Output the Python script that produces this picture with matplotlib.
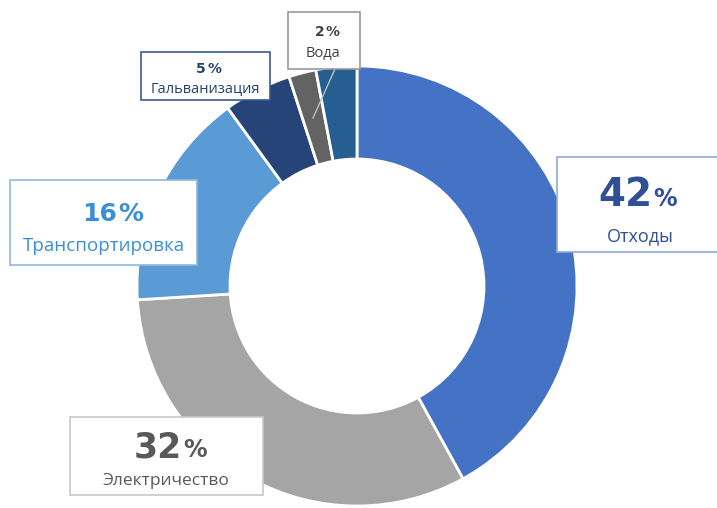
import matplotlib.pyplot as plt
from matplotlib.patches import Rectangle

# данные
labels = ['Отходы', 'Электричество', 'Транспортировка', 'Гальванизация', 'Вода', '']
values = [42, 32, 16, 5, 2, 3]
colors = ['#4472C4', '#A5A5A5', '#5B9BD5', '#264478', '#636363', '#255E91']

plt.rcParams['font.family'] = ['Open Sans', 'DejaVu Sans']

fig = plt.figure(figsize=(7.17, 5.08), dpi=100)
ax = fig.add_axes([0, 0, 1, 1])

H = 508
cx, cy, R = 357, H - 286, 220

ax.pie(values, colors=colors, startangle=90, counterclock=False,
       center=(cx, cy), radius=R, frame=True,
       wedgeprops=dict(width=R - 127, edgecolor='white', linewidth=2))
ax.set_xlim(0, 717)
ax.set_ylim(0, 508)
ax.axis('off')


def box(x0, y0, x1, y1, ec):
    ax.add_patch(Rectangle((x0, H - y1), x1 - x0, y1 - y0, facecolor='white',
                           edgecolor=ec, linewidth=1.2, zorder=5))


def pct(x, y, num, size, color, psize):
    ax.text(x, H - y, num, ha='right', va='baseline', fontsize=size,
            fontweight='heavy', color=color, family='DejaVu Sans', zorder=6)
    ax.text(x + 1, H - y, '%', ha='left', va='baseline', fontsize=psize,
            fontweight='bold', color=color, family='DejaVu Sans', zorder=6)


# Отходы
box(557, 157, 730, 252, '#8FAADC')
pct(652, 206, '42', 28, '#2F4F96', 17)
ax.text(640, H - 236, labels[0], ha='center', va='center', fontsize=13,
        color='#2F4F96', zorder=6)

# Транспортировка
box(10, 180, 197, 265, '#8FB8E0')
pct(117, 221, '16', 18, '#3A8FD8', 18)
ax.text(104, H - 246, labels[2], ha='center', va='center', fontsize=13.5,
        color='#3A8FD8', zorder=6)

# Электричество
box(70, 417, 263, 495, '#C8C8C8')
pct(182, 457, '32', 25, '#595959', 17)
ax.text(166, H - 481, labels[1], ha='center', va='center', fontsize=12.5,
        color='#595959', zorder=6)

# Гальванизация
box(141, 52, 270, 100, '#3A5A8C')
pct(206, 73, '5', 10, '#26426E', 10)
ax.text(205, H - 89, labels[3], ha='center', va='center', fontsize=10.5,
        color='#26426E', zorder=6)

# Вода
ax.plot([335, 313], [H - 69, H - 118], color='#BFBFBF', lw=1, zorder=4)
box(288, 12, 360, 69, '#9A9A9A')
pct(325, 36, '2', 10, '#404040', 10)
ax.text(323, H - 53, labels[4], ha='center', va='center', fontsize=10.5,
        color='#404040', zorder=6)

fig.savefig('out.png', dpi=100)
